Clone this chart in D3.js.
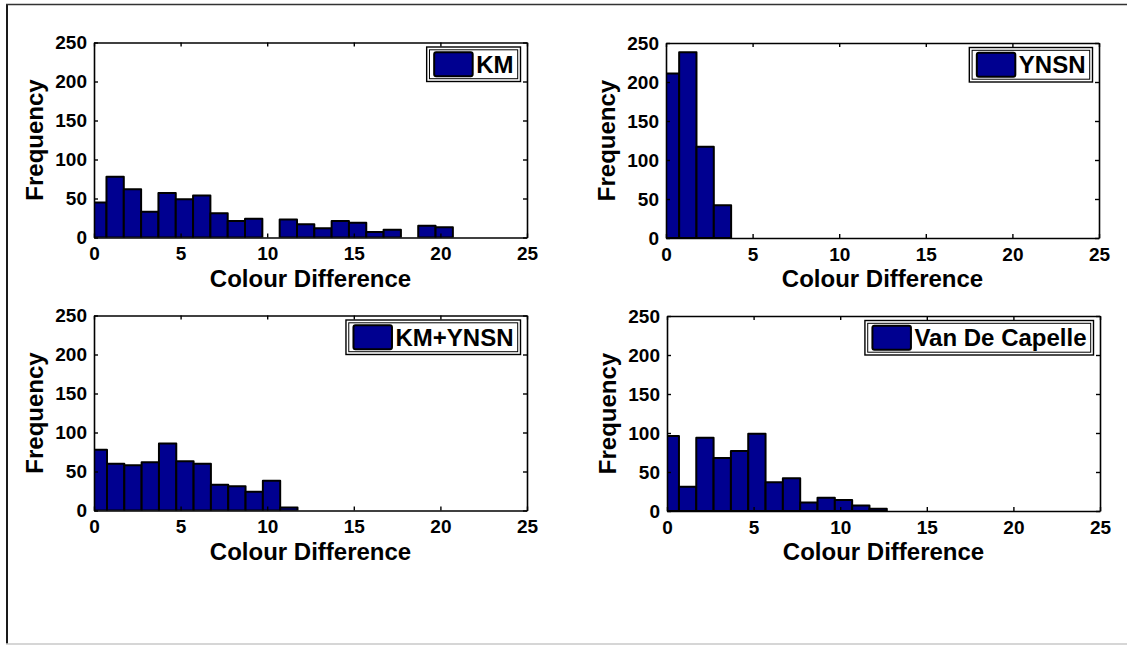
<!DOCTYPE html>
<html>
<head>
<meta charset="utf-8">
<script src="https://cdn.jsdelivr.net/npm/d3@7"></script>
<style>
  html, body { margin: 0; padding: 0; background: #fff; }
  svg { display: block; }
  text { font-family: "Liberation Sans", Arial, sans-serif; font-weight: bold; fill: #000; }
</style>
</head>
<body>
<svg id="fig" width="1127" height="645"></svg>
<script>
// Histogram bin centres (bin width 1) and frequencies for each method
const binWidth = 1;

const kmCentres = [0.22, 1.22, 2.22, 3.22, 4.22, 5.22, 6.22, 7.22, 8.22, 9.22, 10.22,
                   11.22, 12.22, 13.22, 14.22, 15.22, 16.22, 17.22, 18.22, 19.22, 20.22];
const kmCounts  = [45, 78, 62, 33, 57, 49, 54, 31, 21, 24, 0,
                   23, 17, 12, 21, 19, 7, 10, 0, 15, 13];

const ynsnCentres = [0.26, 1.26, 2.26, 3.26];
const ynsnCounts  = [211, 238, 117, 42];

const kmYnsnCentres = [0.25, 1.25, 2.25, 3.25, 4.25, 5.25, 6.25, 7.25, 8.25, 9.25, 10.25, 11.25];
const kmYnsnCounts  = [78, 60, 58, 62, 86, 63, 60, 33, 31, 24, 38, 4];

const vdcCentres = [0.19, 1.19, 2.19, 3.19, 4.19, 5.19, 6.19, 7.19, 8.19, 9.19, 10.19, 11.19, 12.19];
const vdcCounts  = [96, 31, 94, 68, 77, 99, 37, 42, 11, 17, 14, 7, 3];

const xTicks = [0, 5, 10, 15, 20, 25];
const yTicks = [0, 50, 100, 150, 200, 250];
const xLabel = "Colour Difference";
const yLabel = "Frequency";

const panels = [
  { name: "KM",             centres: kmCentres,     counts: kmCounts,     left: 94,  top: 42.5 },
  { name: "YNSN",           centres: ynsnCentres,   counts: ynsnCounts,   left: 666, top: 43 },
  { name: "KM+YNSN",        centres: kmYnsnCentres, counts: kmYnsnCounts, left: 94,  top: 315.5 },
  { name: "Van De Capelle", centres: vdcCentres,    counts: vdcCounts,    left: 667, top: 316 }
];

const plotW = 433, plotH = 195;
const barFill = "#000090";

const svg = d3.select("#fig");

// figure frame
svg.append("line").attr("x1", 7).attr("x2", 7).attr("y1", 4).attr("y2", 644)
  .attr("stroke", "#1a1a1a").attr("stroke-width", 2);
svg.append("line").attr("x1", 6).attr("x2", 1127).attr("y1", 4.5).attr("y2", 4.5)
  .attr("stroke", "#333").attr("stroke-width", 1.5);
svg.append("line").attr("x1", 6).attr("x2", 1127).attr("y1", 644).attr("y2", 644)
  .attr("stroke", "#c8c8c8").attr("stroke-width", 1.5);

panels.forEach((p, i) => {
  const x = d3.scaleLinear().domain([0, 25]).range([0, plotW]);
  const y = d3.scaleLinear().domain([0, 250]).range([plotH, 0]);

  const g = svg.append("g").attr("transform", `translate(${p.left},${p.top})`);

  const clipId = "clip" + i;
  g.append("clipPath").attr("id", clipId)
    .append("rect").attr("x", 0).attr("y", -2).attr("width", plotW).attr("height", plotH + 2);

  // histogram bars
  const bins = p.centres.map((c, k) => ({ c: c, n: p.counts[k] }));
  g.append("g").attr("clip-path", `url(#${clipId})`)
    .selectAll("rect").data(bins).join("rect")
    .attr("x", d => x(d.c - binWidth / 2))
    .attr("width", d => x(d.c + binWidth / 2) - x(d.c - binWidth / 2))
    .attr("y", d => y(d.n))
    .attr("height", d => y(0) - y(d.n))
    .attr("fill", barFill)
    .attr("stroke", "#000")
    .attr("stroke-width", 2)
    .attr("stroke-linejoin", "round");

  // axes: labelled bottom/left, bare top/right, ticks pointing inward
  const styleAxis = sel => {
    sel.selectAll(".domain").attr("stroke", "#000").attr("stroke-width", 1.6);
    sel.selectAll(".tick line").attr("stroke", "#000").attr("stroke-width", 1.4);
    sel.selectAll(".tick text").style("font-size", "19px")
      .style("font-family", '"Liberation Sans", Arial, sans-serif').style("font-weight", "bold");
  };

  g.append("g").attr("transform", `translate(0,${plotH})`)
    .call(d3.axisBottom(x).tickValues(xTicks).tickFormat(d3.format("d"))
      .tickSize(-4).tickSizeOuter(0).tickPadding(9.5))
    .call(styleAxis);
  g.append("g")
    .call(d3.axisTop(x).tickValues(xTicks).tickFormat("").tickSize(-4).tickSizeOuter(0))
    .call(styleAxis);
  g.append("g")
    .call(d3.axisLeft(y).tickValues(yTicks).tickFormat(d3.format("d"))
      .tickSize(-4).tickSizeOuter(0).tickPadding(7))
    .call(styleAxis);
  g.append("g").attr("transform", `translate(${plotW},0)`)
    .call(d3.axisRight(y).tickValues(yTicks).tickFormat("").tickSize(-4).tickSizeOuter(0))
    .call(styleAxis);

  // axis titles
  g.append("text")
    .attr("x", plotW / 2).attr("y", plotH + 49)
    .attr("text-anchor", "middle")
    .style("font-size", "24px")
    .text(xLabel);
  g.append("text")
    .attr("transform", `translate(${-51},${plotH / 2}) rotate(-90)`)
    .attr("text-anchor", "middle")
    .style("font-size", "24px")
    .text(yLabel);

  // legend in the upper right corner
  const lg = g.append("g");
  const label = lg.append("text").style("font-size", "24px").text(p.name);
  const tw = label.node().getComputedTextLength();
  const boxH = 34.5, patchW = 40, patchH = 24;
  const boxW = 6 + patchW + 3.5 + tw + 7;
  const bx = plotW - 6.5 - boxW, by = 4.5;
  lg.insert("rect", "text")
    .attr("x", bx).attr("y", by).attr("width", boxW).attr("height", boxH)
    .attr("fill", "#fff").attr("stroke", "#000").attr("stroke-width", 1.4);
  lg.insert("rect", "text")
    .attr("x", bx + 2.8).attr("y", by + 2.8).attr("width", boxW - 5.6).attr("height", boxH - 5.6)
    .attr("fill", "none").attr("stroke", "#000").attr("stroke-width", 1);
  lg.insert("rect", "text")
    .attr("x", bx + 7.5).attr("y", by + (boxH - patchH) / 2)
    .attr("width", patchW - 1.5).attr("height", patchH)
    .attr("rx", 2)
    .attr("fill", barFill).attr("stroke", "#000").attr("stroke-width", 2);
  label.attr("x", bx + 6 + patchW + 3.5).attr("y", by + boxH / 2 + 8.6);
});
</script>
</body>
</html>
